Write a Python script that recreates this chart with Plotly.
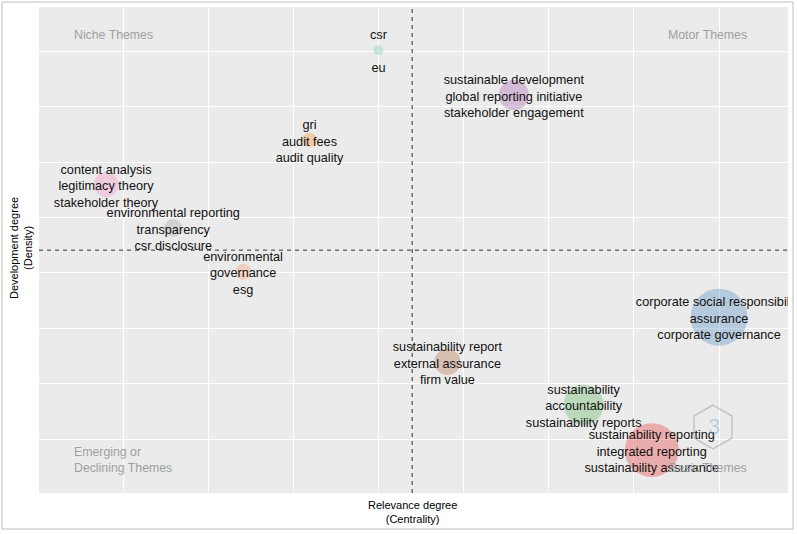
import math
import plotly.graph_objects as go

cluster_labels = [
    "csr<br> <br>eu",
    "sustainable development<br>global reporting initiative<br>stakeholder engagement",
    "gri<br>audit fees<br>audit quality",
    "content analysis<br>legitimacy theory<br>stakeholder theory",
    "environmental reporting<br>transparency<br>csr disclosure",
    "environmental<br>governance<br>esg",
    "sustainability report<br>external assurance<br>firm value",
    "corporate social responsibility<br>assurance<br>corporate governance",
    "sustainability<br>accountability<br>sustainability reports",
    "sustainability reporting<br>integrated reporting<br>sustainability assurance",
]
centrality = [4.00, 5.59, 3.19, 0.80, 1.59, 2.41, 4.81, 8.00, 6.41, 7.21]
density = [8.02, 7.21, 6.40, 5.59, 4.81, 4.02, 2.39, 3.20, 1.62, 0.80]
frequency = [10, 90, 20, 62, 32, 26, 68, 325, 160, 290]
cluster_colors = ["#66C2A5", "#984EA3", "#FF7F00", "#F781BF", "#999999",
                  "#FC8D62", "#A65628", "#377EB8", "#4DAF4A", "#E41A1C"]
mean_centrality = 4.396
mean_density = 4.41
quadrant_names = ["Niche Themes", "Motor Themes", "Emerging or<br>Declining Themes", "Basic Themes"]

FONT = "Liberation Sans, Arial, sans-serif"
W, H = 797, 534
L, R, T, B = 39, 9, 7, 41
PW, PH = W - L - R, H - T - B
XR = [0.013, 8.81]
YR = [0.025, 8.80]
TEXT_SHIFT = 2.5 * (YR[1] - YR[0]) / PH  # label baseline nudge (px -> axis units)


def px(x):
    return (x - L) / PW


def py(y):
    return (H - B - y) / PH


fig = go.Figure()

fig.add_trace(go.Scatter(
    x=centrality, y=density, mode="markers",
    marker=dict(size=frequency, sizemode="area", sizeref=0.2,
                color=cluster_colors, opacity=0.3, line=dict(width=0)),
    hoverinfo="skip", showlegend=False,
))
fig.add_trace(go.Scatter(
    x=centrality, y=density, mode="text", text=cluster_labels, yaxis="y2",
    textposition="middle center", cliponaxis=True,
    textfont=dict(family=FONT, size=12.7, color="#111111"),
    hoverinfo="skip", showlegend=False,
))

fig.add_vline(x=mean_centrality, line=dict(color="#333333", width=1, dash="4px,4px"))
fig.add_hline(y=mean_density, line=dict(color="#333333", width=1, dash="4px,4px"))

annotations = [
    dict(text=quadrant_names[0], x=px(72), y=py(35), xanchor="left", yanchor="middle"),
    dict(text=quadrant_names[1], x=px(749), y=py(35), xanchor="right", yanchor="middle"),
    dict(text=quadrant_names[2], x=px(72), y=py(460), xanchor="left", yanchor="middle", align="left"),
    dict(text=quadrant_names[3], x=px(749), y=py(468), xanchor="right", yanchor="middle"),
]
for a in annotations:
    a.update(xref="paper", yref="paper", showarrow=False,
             font=dict(family=FONT, size=12.3, color="#A0A0A0"))

annotations.append(dict(text="Relevance degree<br>(Centrality)", x=px(412), y=py(512),
                        xref="paper", yref="paper", showarrow=False,
                        xanchor="center", yanchor="middle",
                        font=dict(family=FONT, size=11, color="#000000")))
annotations.append(dict(text="Development degree<br>(Density)", x=px(21), y=py(248),
                        xref="paper", yref="paper", showarrow=False, textangle=-90,
                        xanchor="center", yanchor="middle",
                        font=dict(family=FONT, size=11, color="#000000")))
annotations.append(dict(text="3", x=px(714), y=py(426), xref="paper", yref="paper",
                        showarrow=False, xanchor="center", yanchor="middle",
                        font=dict(family=FONT, size=22, color="rgba(120,170,210,0.45)")))

# logo hexagon (decoration)
cx, cy, rr = 713, 427, 22
pts = []
for k in range(6):
    ang = math.radians(90 + 60 * k)
    pts.append((px(cx + rr * math.cos(ang)), py(cy - rr * math.sin(ang))))
path = "M " + " L ".join(f"{a:.5f},{b:.5f}" for a, b in pts) + " Z"

shapes = [
    dict(type="rect", xref="paper", yref="paper", x0=px(2), x1=px(793), y0=py(529), y1=py(2),
         line=dict(color="#BEBEBE", width=1), fillcolor="rgba(0,0,0,0)", layer="below"),
    dict(type="path", xref="paper", yref="paper", path=path,
         line=dict(color="rgba(170,170,170,0.6)", width=1.5), fillcolor="rgba(0,0,0,0)", layer="above"),
]

fig.update_layout(
    width=W, height=H,
    margin=dict(l=L, r=R, t=T, b=B),
    paper_bgcolor="white", plot_bgcolor="#EBEBEB",
    annotations=annotations, shapes=list(fig.layout.shapes) + shapes,
    font=dict(family=FONT),
    yaxis2=dict(overlaying="y", range=[YR[0] + TEXT_SHIFT, YR[1] + TEXT_SHIFT],
                showgrid=False, showticklabels=False, ticks="", zeroline=False, showline=False),
)
fig.update_xaxes(range=XR, tick0=0, dtick=1, showgrid=True, gridcolor="white",
                 gridwidth=1, showticklabels=False, ticks="", zeroline=False, showline=False)
fig.update_layout(yaxis=dict(range=YR, tick0=0, dtick=1, showgrid=True, gridcolor="white",
                             gridwidth=1, showticklabels=False, ticks="", zeroline=False,
                             showline=False))

fig.write_html("out.html", config={"displayModeBar": False},
               post_script="document.body.style.margin='0';document.body.style.overflow='hidden';")
